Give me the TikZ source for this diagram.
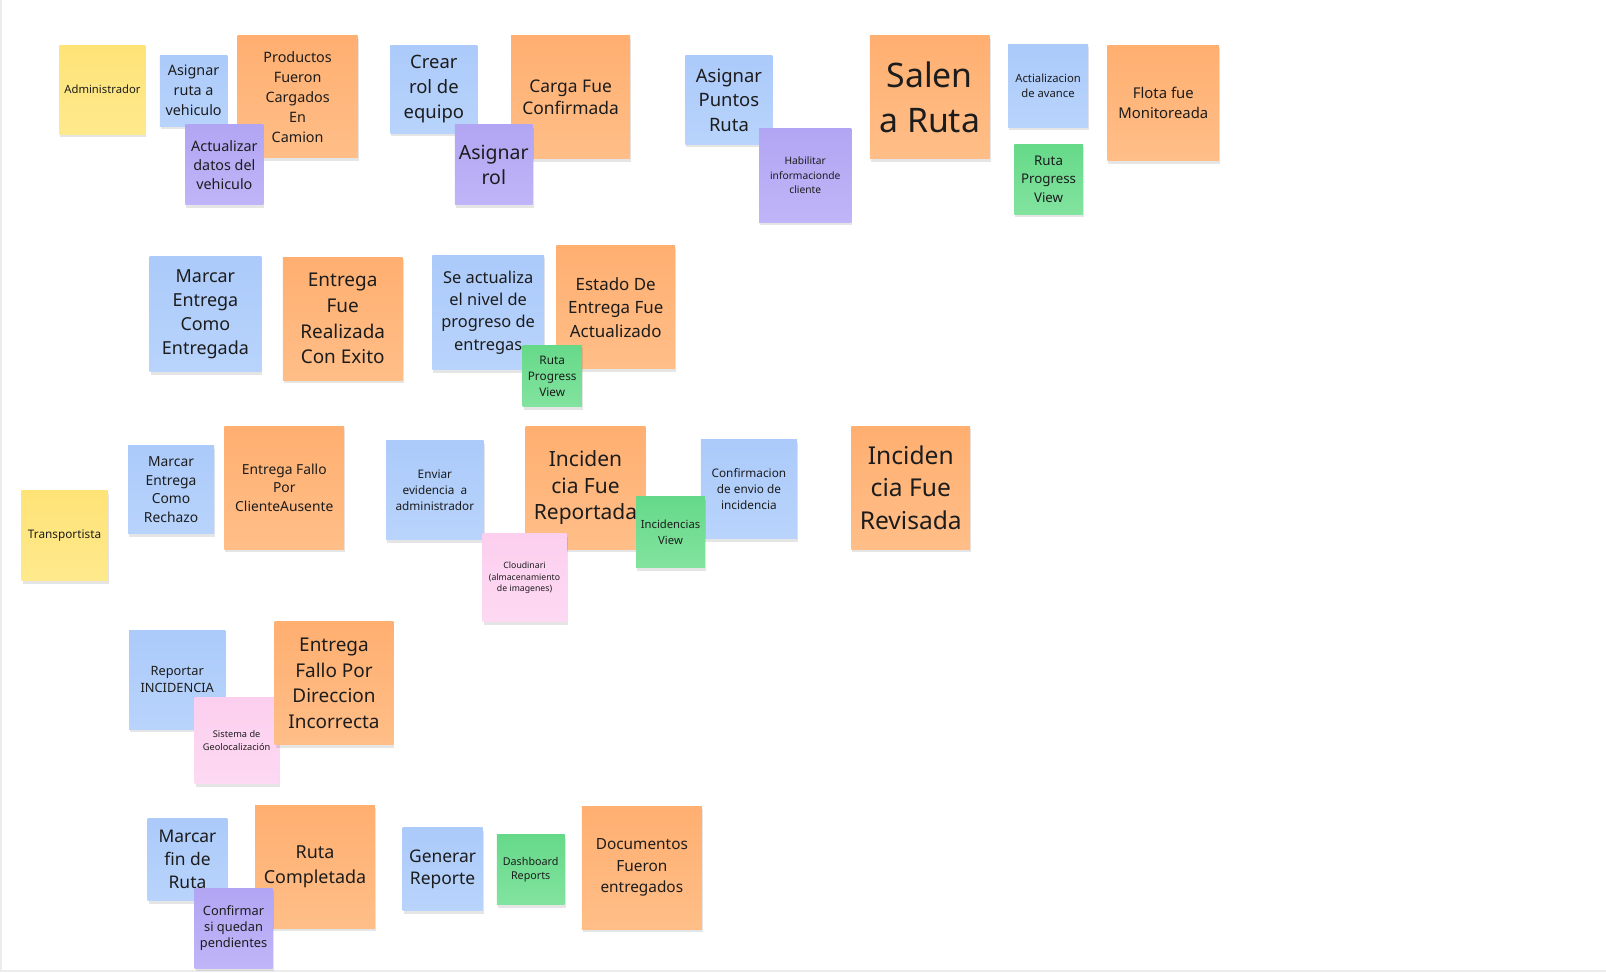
\documentclass[tikz,border=0pt]{standalone}
\usepackage{fontspec}
\setmainfont{Noto Sans}
\usetikzlibrary{shadows}
\definecolor{txt}{HTML}{1C1C1C}
\definecolor{orT}{HTML}{FFAF70}
\definecolor{orB}{HTML}{FFBE88}
\definecolor{blT}{HTML}{ACCAFA}
\definecolor{blB}{HTML}{B8D4FC}
\definecolor{ylT}{HTML}{FEE377}
\definecolor{ylB}{HTML}{FEE98C}
\definecolor{puT}{HTML}{B2A5F3}
\definecolor{puB}{HTML}{C0B5F8}
\definecolor{grT}{HTML}{66D989}
\definecolor{grB}{HTML}{82E39F}
\definecolor{piT}{HTML}{FCCFEE}
\definecolor{piB}{HTML}{FDD9F3}
\definecolor{frame}{HTML}{ECECEC}
\newcommand\nfs[2]{\fontsize{#1}{#2}\selectfont}
\tikzset{
  note/.style={inner sep=0pt, outer sep=0pt, align=center, text=txt,
    drop shadow={shadow xshift=1pt, shadow yshift=-3pt, opacity=0.10, fill=black}},
  ev/.style={note, top color=orT, bottom color=orB},
  cmd/.style={note, top color=blT, bottom color=blB},
  actor/.style={note, top color=ylT, bottom color=ylB},
  pol/.style={note, top color=puT, bottom color=puB},
  rmod/.style={note, top color=grT, bottom color=grB},
  ext/.style={note, top color=piT, bottom color=piB},
  sz/.style n args={2}{minimum width=#1pt, minimum height=#2pt}
}
\begin{document}
\begin{tikzpicture}[x=1pt,y=-1pt,scale=1.0245,every node/.append style={transform shape}]
\useasboundingbox (0,0) rectangle (1567.6,948.8);
\fill[white] (0,0) rectangle (1567.6,948.8);
\coordinate (fa) at (0.8,0);
\coordinate (fb) at (0.8,947.9);
\coordinate (fc) at (1567.6,947.9);
\draw[frame, line width=1.6pt] (fa) -- (fb) -- (fc);
% ---- row 1
\node[actor, sz={84}{87}, font=\nfs{11}{15}] (admin) at (100,87.5) {Administrador};
\node[cmd, sz={66}{69}, font=\nfs{14}{19.5}] (asignarRuta) at (189,88.5) {Asignar\\ruta a\\vehiculo};
\node[ev, sz={117}{119}, font=\nfs{14}{19.5}] (productos) at (290.5,94.5) {Productos\\Fueron\\Cargados\\En\\Camion};
\node[pol, sz={76}{78}, font=\nfs{14}{18.5}] (actualizar) at (219,161) {Actualizar\\datos del\\vehiculo};
\node[cmd, sz={85}{86}, font=\nfs{18}{24.5}] (crearRol) at (423.5,87) {Crear\\rol de\\equipo};
\node[ev, sz={116}{120}, font=\nfs{17}{22}] (cargaFue) at (557,95) {Carga Fue\\Confirmada};
\node[pol, sz={76}{78}, font=\nfs{19}{24}] (asignarRol) at (482,161) {Asignar\\rol};
\node[cmd, sz={85}{87}, font=\nfs{18}{24}] (asignarPuntos) at (711.5,97.5) {Asignar\\Puntos\\Ruta};
\node[pol, sz={90}{92}, font=\nfs{10}{14}] (habilitar) at (786,171) {Habilitar\\informacionde\\cliente};
\node[ev, sz={117}{120}, font=\nfs{33}{44}] (salen) at (907.5,95) {Salen\\a Ruta};
\node[cmd, sz={78}{81}, font=\nfs{11}{15}] (actializacion) at (1023,83.5) {Actializacion\\de avance};
\node[rmod, sz={67}{68}, font=\nfs{13}{18.5}] (rutaPVa) at (1023.5,175) {Ruta\\Progress\\View};
\node[ev, sz={109}{113}, font=\nfs{14.5}{20}] (flota) at (1135.5,100.5) {Flota fue\\Monitoreada};
% ---- row 2
\node[cmd, sz={109}{113}, font=\nfs{17.5}{23.5}] (marcarEntregada) at (200.5,306.5) {Marcar\\Entrega\\Como\\Entregada};
\node[ev, sz={117}{120}, font=\nfs{18.5}{25}] (entregaFue) at (334.5,311) {Entrega\\Fue\\Realizada\\Con Exito};
\node[cmd, sz={109}{112}, font=\nfs{16}{21.7}] (seActualiza) at (476.5,305) {Se actualiza\\el nivel de\\progreso de\\entregas};
\node[ev, sz={116}{120}, font=\nfs{16.5}{23}] (estado) at (601,300) {Estado De\\Entrega Fue\\Actualizado};
\node[rmod, sz={58}{60}, font=\nfs{11.5}{15.5}] (rutaPVb) at (539,367) {Ruta\\Progress\\View};
% ---- row 3
\node[actor, sz={84}{88}, font=\nfs{11.5}{15}] (transportista) at (63,523) {Transportista};
\node[cmd, sz={84}{86}, font=\nfs{13.5}{18}] (marcarRechazo) at (167,478) {Marcar\\Entrega\\Como\\Rechazo};
\node[ev, sz={117}{120}, font=\nfs{13.5}{18}] (fallCliente) at (277.5,476) {Entrega Fallo\\Por\\ClienteAusente};
\node[cmd, sz={95}{97}, font=\nfs{11.5}{15.5}] (enviar) at (424.5,478.5) {Enviar\\evidencia~ a\\administrador};
\node[ev, sz={117}{120}, font=\nfs{20.5}{26}] (incRep) at (571.5,476) {Inciden\\cia Fue\\Reportada};
\node[ext, sz={82}{86}, font=\nfs{8.5}{11.5}] (cloud) at (512,564) {Cloudinari\\(almacenamiento\\de imagenes)};
\node[cmd, sz={94}{97}, font=\nfs{11.5}{15.5}] (confirmacion) at (731,477.5) {Confirmacion\\de envio de\\incidencia};
\node[rmod, sz={67}{69}, font=\nfs{11}{15}] (incView) at (654.5,519.5) {Incidencias\\View};
\node[ev, sz={116}{120}, font=\nfs{24}{32}] (incRev) at (889,476) {Inciden\\cia Fue\\Revisada};
% ---- row 4
\node[cmd, sz={94}{97}, font=\nfs{12.5}{17}] (reportar) at (173,663.5) {Reportar\\INCIDENCIA};
\node[ext, sz={82}{84}, font=\nfs{9}{13}] (geo) at (231,723) {Sistema de\\Geolocalización};
\node[ev, sz={116}{120}, font=\nfs{18.5}{25}] (fallDir) at (326,667) {Entrega\\Fallo Por\\Direccion\\Incorrecta};
% ---- row 5
\node[cmd, sz={78}{80}, font=\nfs{17}{22.5}] (marcarFin) at (183,839) {Marcar\\fin de\\Ruta};
\node[ev, sz={117}{120}, font=\nfs{17.5}{24}] (rutaComp) at (307.5,846) {Ruta\\Completada};
\node[pol, sz={76}{78}, font=\nfs{12.5}{16}] (confirmar) at (228,906) {Confirmar\\si quedan\\pendientes};
\node[cmd, sz={78}{81}, font=\nfs{17}{22}] (generar) at (432,848.5) {Generar\\Reporte};
\node[rmod, sz={66}{68}, font=\nfs{10.5}{14}] (dashboard) at (518,849) {Dashboard\\Reports};
\node[ev, sz={117}{120}, font=\nfs{15}{21}] (documentos) at (626.5,847) {Documentos\\Fueron\\entregados};
\end{tikzpicture}
\end{document}
